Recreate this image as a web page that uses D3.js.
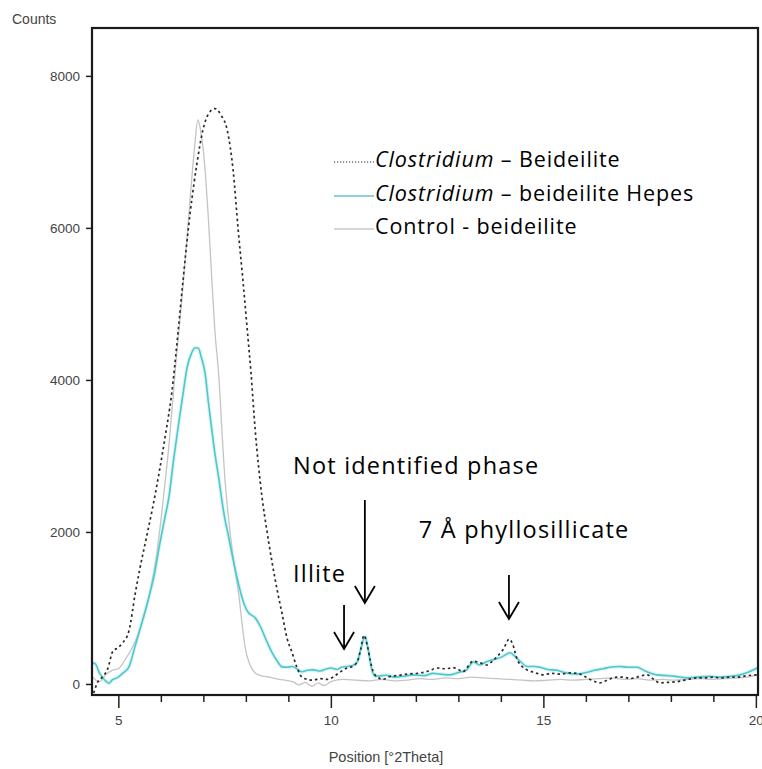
<!DOCTYPE html>
<html>
<head>
<meta charset="utf-8">
<script src="https://cdn.jsdelivr.net/npm/d3@7"></script>
<style>
  body { margin: 0; background: #fff; }
  svg { display: block; }
</style>
</head>
<body>
<svg id="chart"></svg>
<script>
// position [°2Theta] / counts pairs
const beideilite = [
  [4.42, -120], [4.5, 10], [4.62, 90], [4.75, 200], [4.87, 430], [5.0, 480], [5.1, 540], [5.25, 700],
  [5.4, 1200], [5.5, 1500], [5.65, 1900], [5.8, 2300], [5.95, 2750], [6.1, 3250], [6.25, 3800],
  [6.4, 4600], [6.52, 5300], [6.69, 6200], [6.85, 6850], [6.99, 7290], [7.12, 7500], [7.27, 7570],
  [7.42, 7480], [7.56, 7290], [7.7, 6760], [7.82, 5970], [7.93, 5315], [8.03, 4680], [8.12, 4100],
  [8.22, 3340], [8.38, 2460], [8.5, 2000], [8.62, 1590], [8.75, 1200], [8.85, 930], [8.97, 600],
  [9.09, 410], [9.2, 220], [9.32, 90], [9.45, 60], [9.58, 50], [9.75, 70], [9.9, 60], [10.05, 90],
  [10.2, 150], [10.38, 210], [10.5, 230], [10.62, 290], [10.7, 450], [10.78, 640], [10.86, 500],
  [10.93, 300], [10.99, 170], [11.1, 90], [11.23, 60], [11.4, 100], [11.56, 110], [11.8, 130],
  [12.1, 145], [12.3, 170], [12.5, 210], [12.7, 200], [12.87, 215], [13.0, 190], [13.1, 160],
  [13.35, 300], [13.5, 280], [13.67, 250], [13.8, 300], [13.91, 360], [14.05, 450], [14.2, 590],
  [14.28, 520], [14.38, 330], [14.5, 230], [14.62, 185], [14.8, 150], [14.99, 120], [15.2, 140],
  [15.4, 130], [15.63, 145], [15.8, 140], [15.94, 110], [16.1, 60], [16.33, 15], [16.5, 50],
  [16.73, 90], [16.9, 90], [17.04, 70], [17.2, 90], [17.44, 120], [17.6, 60], [17.74, 15],
  [17.9, 20], [18.14, 30], [18.4, 60], [18.6, 80], [18.76, 80], [19.0, 90], [19.16, 80],
  [19.4, 90], [19.56, 90], [19.8, 110], [20.03, 120]
];

const hepes = [
  [4.38, 275], [4.45, 270], [4.55, 150], [4.62, 90], [4.7, 40], [4.78, 10], [4.85, 50], [5.0, 90],
  [5.1, 140], [5.25, 225], [5.39, 490], [5.55, 800], [5.72, 1145], [5.85, 1450], [5.96, 1800],
  [6.08, 2150], [6.19, 2460], [6.3, 2950], [6.43, 3470], [6.53, 3850], [6.62, 4170], [6.72, 4350],
  [6.8, 4420], [6.88, 4420], [6.95, 4300], [7.04, 4090], [7.12, 3700], [7.2, 3340], [7.28, 3000],
  [7.37, 2680], [7.44, 2400], [7.51, 2160], [7.59, 1950], [7.67, 1720], [7.76, 1480], [7.86, 1240],
  [7.96, 1050], [8.07, 930], [8.15, 900], [8.22, 870], [8.3, 800], [8.38, 710], [8.5, 550],
  [8.62, 410], [8.74, 300], [8.85, 225], [8.97, 220], [9.09, 230], [9.2, 200], [9.32, 160],
  [9.45, 180], [9.58, 185], [9.75, 170], [9.9, 200], [10.0, 210], [10.15, 190], [10.25, 220],
  [10.38, 230], [10.5, 240], [10.62, 290], [10.7, 450], [10.8, 620], [10.88, 450], [10.96, 200],
  [11.04, 100], [11.2, 110], [11.32, 115], [11.5, 90], [11.7, 100], [11.93, 120], [12.2, 110],
  [12.4, 140], [12.57, 130], [12.8, 120], [13.0, 150], [13.2, 190], [13.35, 290], [13.5, 250],
  [13.65, 290], [13.82, 320], [14.0, 350], [14.22, 410], [14.3, 380], [14.45, 300], [14.62, 230],
  [14.8, 230], [14.92, 220], [15.1, 190], [15.32, 180], [15.5, 150], [15.79, 130], [16.0, 150],
  [16.2, 180], [16.4, 200], [16.57, 220], [16.8, 230], [17.0, 220], [17.2, 220], [17.4, 170],
  [17.67, 120], [17.9, 110], [18.1, 100], [18.38, 80], [18.6, 90], [18.9, 100], [19.16, 90],
  [19.4, 100], [19.63, 120], [19.8, 150], [20.03, 210]
];

const control = [
  [4.38, 100], [4.45, 60], [4.55, 30], [4.7, 120], [4.85, 180], [5.0, 200], [5.16, 320], [5.3, 450],
  [5.5, 700], [5.7, 1100], [5.9, 1700], [6.05, 2400], [6.2, 3200], [6.35, 4200], [6.5, 5100],
  [6.62, 5900], [6.72, 6600], [6.8, 7100], [6.87, 7420], [6.93, 7300], [6.99, 7065], [7.05, 6700],
  [7.11, 6200], [7.2, 5315], [7.27, 4660], [7.37, 4000], [7.44, 3300], [7.51, 2680], [7.59, 2200],
  [7.67, 1800], [7.76, 1450], [7.84, 1145], [7.91, 800], [7.98, 490], [8.1, 250], [8.22, 145],
  [8.35, 110], [8.55, 90], [8.7, 70], [8.92, 50], [9.1, 30], [9.25, -10], [9.4, 20], [9.55, -30],
  [9.7, 10], [9.85, -20], [10.0, 30], [10.3, 60], [10.6, 50], [10.9, 40], [11.2, 60], [11.5, 40],
  [11.8, 50], [12.1, 70], [12.4, 60], [12.7, 80], [13.0, 70], [13.3, 90], [13.6, 80], [13.9, 70],
  [14.2, 60], [14.5, 50], [14.8, 40], [15.1, 50], [15.4, 60], [15.7, 50], [16.0, 60], [16.3, 70],
  [16.6, 80], [16.9, 60], [17.2, 70], [17.5, 50], [17.8, 60], [18.1, 50], [18.4, 60], [18.7, 70],
  [19.0, 60], [19.3, 70], [19.6, 80], [19.8, 90], [20.03, 120]
];

const xTicksMajor = [5, 10, 15, 20];
const xTicksMinor = [6, 7, 8, 9, 11, 12, 13, 14, 16, 17, 18, 19];
const yTicks = [0, 2000, 4000, 6000, 8000];

// arrows and labels, in data units
const arrows = [
  { x: 10.8, from: 2420, to: 1065 },
  { x: 10.31, from: 1040, to: 460 },
  { x: 14.19, from: 1435, to: 855 }
];
const notes = [
  { x: 9.11, y: 2760, text: "Not identified phase" },
  { x: 12.07, y: 1920, text: "7 Å phyllosillicate" },
  { x: 9.11, y: 1340, text: "Illite" }
];

const width = 762;
const height = 769;
const margin = { top: 28, right: 4, bottom: 74, left: 92 };
const innerWidth = width - margin.left - margin.right;
const innerHeight = height - margin.top - margin.bottom;

const svg = d3.select("#chart").attr("width", width).attr("height", height);

const xScale = d3.scaleLinear().domain([4.38, 20.05]).range([0, innerWidth]);
const yScale = d3.scaleLinear().domain([-145, 8630]).range([innerHeight, 0]);

const chartArea = svg.append("g").attr("transform", `translate(${margin.left},${margin.top})`);

svg.append("defs").append("clipPath").attr("id", "clip")
  .append("rect").attr("width", innerWidth).attr("height", innerHeight);

const plot = chartArea.append("g").attr("clip-path", "url(#clip)");

const line = d3.line()
  .x((d) => xScale(d[0]))
  .y((d) => yScale(d[1]))
  .curve(d3.curveMonotoneX);

// Control - beideilite
plot.append("path").datum(control)
  .attr("fill", "none").attr("stroke", "#c4c4c4").attr("stroke-width", 1.3)
  .attr("d", line);

// Hepes, with a faint glow like the scan
plot.append("path").datum(hepes)
  .attr("fill", "none").attr("stroke", "#9fe3e6").attr("stroke-width", 4).attr("opacity", 0.35)
  .attr("d", line);
plot.append("path").datum(hepes)
  .attr("fill", "none").attr("stroke", "#4fc6cc").attr("stroke-width", 1.6)
  .attr("d", line);

// Clostridium - Beideilite
plot.append("path").datum(beideilite)
  .attr("fill", "none").attr("stroke", "#2b2b2b").attr("stroke-width", 1.7)
  .attr("stroke-dasharray", "2.5,3")
  .attr("d", line);

// Axes
const tickFont = "'Liberation Sans', Arial, sans-serif";

const xAxisMajor = d3.axisBottom(xScale).tickValues(xTicksMajor).tickSize(13).tickSizeOuter(0).tickFormat(d3.format("d"));
const xAxisMinor = d3.axisBottom(xScale).tickValues(xTicksMinor).tickSize(7).tickSizeOuter(0);

const gMinor = chartArea.append("g").attr("transform", `translate(0,${innerHeight})`).call(xAxisMinor);
gMinor.select(".domain").remove();
gMinor.selectAll("text").remove();
gMinor.selectAll("line").attr("stroke", "#222").attr("stroke-width", 1.5);

const gx = chartArea.append("g").attr("transform", `translate(0,${innerHeight})`).call(xAxisMajor);
gx.select(".domain").remove();
gx.selectAll("line").attr("stroke", "#222").attr("stroke-width", 1.5);
gx.selectAll("text").attr("y", 20).attr("dy", "0.71em")
  .style("font-family", tickFont).style("font-size", "13.5px").style("fill", "#444");

const gy = chartArea.append("g").call(d3.axisLeft(yScale).tickValues(yTicks).tickSize(6).tickSizeOuter(0).tickFormat(d3.format("d")));
gy.select(".domain").remove();
gy.selectAll("line").attr("stroke", "#222").attr("stroke-width", 1.5);
gy.selectAll("text").attr("x", -12).style("font-family", tickFont).style("font-size", "13.5px").style("fill", "#444");

// frame
chartArea.append("rect")
  .attr("width", innerWidth).attr("height", innerHeight)
  .attr("fill", "none").attr("stroke", "#1a1a1a").attr("stroke-width", 2.2);

// axis titles
svg.append("text").attr("x", 12).attr("y", 24)
  .style("font-family", tickFont).style("font-size", "14px").style("fill", "#444")
  .text("Counts");

svg.append("text").attr("x", 386).attr("y", 762).attr("text-anchor", "middle")
  .style("font-family", tickFont).style("font-size", "14.5px").style("fill", "#444")
  .text("Position [°2Theta]");

// Legend
const legendFont = "'Open Sans', 'Noto Sans', sans-serif";
const legendItems = [
  { label: "Beideilite", stroke: "#2b2b2b", dash: "1.2,1.8", width: 1.2, y: 167, italic: "Clostridium", sep: " – " },
  { label: "beideilite Hepes", stroke: "#6cc4cf", dash: null, width: 1.6, y: 201, italic: "Clostridium", sep: " – " },
  { label: "Control - beideilite", stroke: "#c8c8c8", dash: null, width: 1.6, y: 234, italic: null, sep: "" }
];

const legend = svg.append("g");
legendItems.forEach((it) => {
  legend.append("line")
    .attr("x1", 334).attr("x2", 374).attr("y1", it.y - 5).attr("y2", it.y - 5)
    .attr("stroke", it.stroke).attr("stroke-width", it.width)
    .attr("stroke-dasharray", it.dash);
  const t = legend.append("text").attr("x", 375).attr("y", it.y)
    .style("font-family", legendFont).style("font-size", "21.5px")
    .style("letter-spacing", "0.9px").style("fill", "#000");
  if (it.italic) {
    t.append("tspan").style("font-style", "italic").text(it.italic);
    t.append("tspan").text(it.sep + it.label);
  } else {
    t.text(it.label);
  }
});

// Annotations
notes.forEach((n) => {
  chartArea.append("text")
    .attr("x", xScale(n.x)).attr("y", yScale(n.y))
    .style("font-family", legendFont).style("font-size", "23.5px")
    .style("letter-spacing", "1.2px").style("fill", "#000")
    .text(n.text);
});

arrows.forEach((a) => {
  const ax = xScale(a.x);
  const y0 = yScale(a.from);
  const y1 = yScale(a.to);
  const g = chartArea.append("g").attr("stroke", "#000").attr("stroke-width", 1.8).attr("fill", "none");
  g.append("line").attr("x1", ax).attr("x2", ax).attr("y1", y0).attr("y2", y1);
  g.append("path").attr("d", `M${ax - 10},${y1 - 17} L${ax},${y1} L${ax + 10},${y1 - 17}`);
});
</script>
</body>
</html>
